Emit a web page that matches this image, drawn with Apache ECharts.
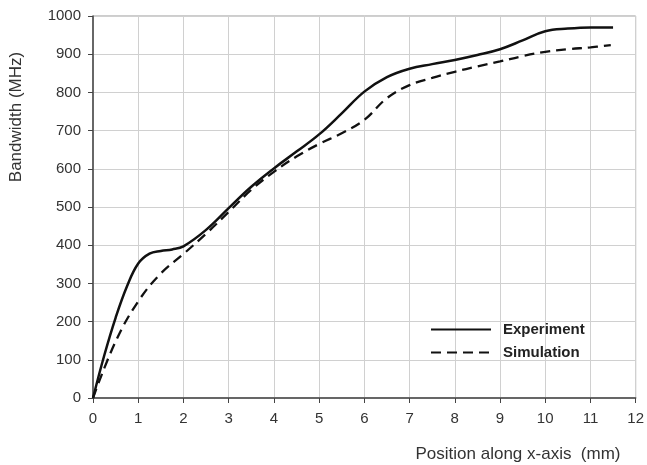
<!DOCTYPE html>
<html>
<head>
<meta charset="utf-8">
<script src="https://cdn.jsdelivr.net/npm/echarts@6/dist/echarts.min.js"></script>
<style>
html,body{margin:0;padding:0;background:#fff;}
#chart{width:647px;height:465px;}
</style>
</head>
<body>
<div id="chart"></div>
<script>
// Position along x-axis (mm) and bandwidth (MHz)
var expX = [0, 0.25, 0.5, 0.75, 1.0, 1.25, 1.5, 1.75, 2.0, 2.5, 3.0, 3.5, 4.0, 4.5, 5.0, 5.5, 6.0, 6.5, 7.0, 7.5, 8.0, 8.5, 9.0, 9.5, 10.0, 10.5, 11.0, 11.5];
var expY = [0, 112, 210, 292, 352, 378, 385, 389, 397, 440, 497, 553, 601, 645, 690, 745, 802, 840, 862, 874, 885, 898, 913, 936, 960, 967, 970, 970];
var simX = [0, 0.5, 1.0, 1.5, 2.0, 2.5, 3.0, 3.5, 4.0, 4.5, 5.0, 5.5, 6.0, 6.5, 7.0, 7.5, 8.0, 8.5, 9.0, 9.5, 10.0, 10.5, 11.0, 11.45];
var simY = [0, 148, 253, 326, 377, 430, 487, 545, 592, 632, 665, 693, 728, 785, 819, 838, 854, 868, 881, 895, 906, 913, 918, 924];
var seriesNames = ['Experiment', 'Simulation'];
var xTitle = 'Position along x-axis  (mm)';
var yTitle = 'Bandwidth (MHz)';

function pairs(xs, ys) { return xs.map(function (x, i) { return [x, ys[i]]; }); }

var chart = echarts.init(document.getElementById('chart'));
var txt = '#333';
var font = '"Liberation Sans", Arial, sans-serif';
chart.setOption({
  animation: false,
  backgroundColor: '#fff',
  textStyle: { fontFamily: font },
  grid: { left: 93, right: 8, top: 16, bottom: 67, show: true, borderColor: '#9a9a9a', borderWidth: 1 },
  xAxis: {
    type: 'value', min: 0, max: 12, interval: 1,
    axisLine: { show: true, onZero: false, lineStyle: { color: '#444', width: 1.5 } },
    axisTick: { show: true, inside: false, length: 5, lineStyle: { color: '#444' } },
    axisLabel: { color: txt, fontSize: 15, margin: 13 },
    splitLine: { show: true, lineStyle: { color: '#d0d0d0', width: 1 } }
  },
  yAxis: {
    type: 'value', min: 0, max: 1000, interval: 100,
    axisLine: { show: true, onZero: false, lineStyle: { color: '#444', width: 1.5 } },
    axisTick: { show: true, inside: false, length: 5, lineStyle: { color: '#444' } },
    axisLabel: { color: txt, fontSize: 15, margin: 12, formatter: function (v) { return String(v); } },
    splitLine: { show: true, lineStyle: { color: '#d0d0d0', width: 1 } }
  },
  legend: {
    orient: 'vertical', left: 425, top: 317,
    itemWidth: 60, itemHeight: 14, itemGap: 8,
    itemStyle: { color: 'transparent', borderColor: 'transparent', borderWidth: 0 },
    textStyle: { color: '#222', fontSize: 15, fontWeight: 'bold', padding: [0, 0, 0, 7] },
    data: seriesNames
  },
  graphic: [
    { type: 'text', x: 518, y: 446, style: { text: xTitle, fill: txt, font: '17px ' + font, textAlign: 'center', textVerticalAlign: 'top' } },
    { type: 'text', x: 8, y: 117, rotation: Math.PI / 2, style: { text: yTitle, fill: txt, font: '17px ' + font, textAlign: 'center', textVerticalAlign: 'top' } }
  ],
  series: [
    { name: seriesNames[0], type: 'line', data: pairs(expX, expY), smooth: 0.4, symbol: 'none', lineStyle: { color: '#111', width: 2.5, type: 'solid' }, itemStyle: { color: '#111' } },
    { name: seriesNames[1], type: 'line', data: pairs(simX, simY), smooth: 0.4, symbol: 'none', lineStyle: { color: '#111', width: 2.3, type: [10, 6] }, itemStyle: { color: '#111' } }
  ]
});
</script>
</body>
</html>
